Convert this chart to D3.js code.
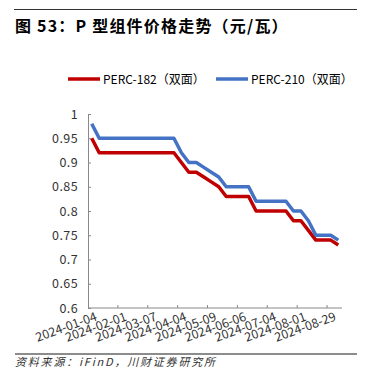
<!DOCTYPE html>
<html><head><meta charset="utf-8">
<script src="https://cdn.jsdelivr.net/npm/d3@7/dist/d3.min.js"></script>
<style>
body{margin:0;background:#fff;}
svg{display:block;font-family:"Noto Sans CJK SC","Noto Sans",sans-serif;}
</style></head>
<body>
<svg id="c" width="375" height="383"></svg>
<script>
const dates = ["2024-01-04","2024-01-11","2024-01-18","2024-01-25","2024-02-01","2024-02-08","2024-02-22","2024-02-29",
"2024-03-07","2024-03-14","2024-03-21","2024-03-28","2024-04-04","2024-04-11","2024-04-18","2024-04-25",
"2024-05-09","2024-05-16","2024-05-23","2024-05-30","2024-06-06","2024-06-13","2024-06-20","2024-06-27",
"2024-07-04","2024-07-11","2024-07-18","2024-07-25","2024-08-01","2024-08-08","2024-08-15","2024-08-22",
"2024-08-29","2024-09-05"];
const perc182 = [0.95,0.92,0.92,0.92,0.92,0.92,0.92,0.92,0.92,0.92,0.92,0.92,0.90,0.88,0.88,0.87,0.86,0.85,
0.83,0.83,0.83,0.83,0.80,0.80,0.80,0.80,0.80,0.78,0.78,0.76,0.74,0.74,0.74,0.73];
const perc210 = [0.98,0.95,0.95,0.95,0.95,0.95,0.95,0.95,0.95,0.95,0.95,0.95,0.92,0.90,0.90,0.89,0.88,0.87,
0.85,0.85,0.85,0.85,0.82,0.82,0.82,0.82,0.82,0.80,0.80,0.78,0.75,0.75,0.75,0.74];
const yTicks = [0.6,0.65,0.7,0.75,0.8,0.85,0.9,0.95,1];
const seriesNames = ["PERC-182（双面）","PERC-210（双面）"];
const colors = ["#C00000","#4472C4"];

const svg = d3.select("#c");
const L = 88, R = 342, T = 114, B = 308;

// rules
svg.append("line").attr("x1",14).attr("x2",357).attr("y1",9.5).attr("y2",9.5).attr("stroke","#333").attr("stroke-width",1);
svg.append("text").attr("x",15).attr("y",32).attr("font-size",16).attr("font-weight","bold").attr("letter-spacing",1.2).attr("fill","#000")
  .text("图 53：P 型组件价格走势（元/瓦）");
svg.append("line").attr("x1",15).attr("x2",357).attr("y1",354).attr("y2",354).attr("stroke","#8c8c8c").attr("stroke-width",2);
svg.append("text").attr("x",15).attr("y",366).attr("font-size",11).attr("font-style","italic").attr("letter-spacing",1.8).attr("fill","#333")
  .text("资料来源：iFinD，川财证券研究所");

const x = d3.scaleBand().domain(d3.range(dates.length)).range([L,R]);
const y = d3.scaleLinear().domain([0.6,1]).range([B,T]);

// y axis
const ya = svg.append("g").attr("transform",`translate(${L},0)`)
  .call(d3.axisLeft(y).tickValues(yTicks).tickSize(-3).tickPadding(10).tickFormat(d=>d3.format("")(+d.toFixed(2))));
ya.select(".domain").attr("stroke","#898989");
ya.selectAll(".tick line").attr("stroke","#898989");
ya.selectAll(".tick text").attr("font-size",12.5).attr("fill","#333").attr("letter-spacing",0.4).attr("font-family","\"Noto Sans CJK SC\",sans-serif");

// x axis
const xa = svg.append("g").attr("transform",`translate(0,${B})`);
xa.append("line").attr("x1",L).attr("x2",R).attr("y1",0).attr("y2",0).attr("stroke","#898989");
const tickIdx = d3.range(0,dates.length,4);
xa.selectAll("line.tk").data(tickIdx.slice(1)).enter().append("line").attr("class","tk")
  .attr("x1",d=>x(d)).attr("x2",d=>x(d)).attr("y1",0).attr("y2",-3).attr("stroke","#898989");
xa.selectAll("text.lb").data(tickIdx).enter().append("text").attr("class","lb")
  .attr("transform",d=>`translate(${x(d)+x.bandwidth()/2+6},${12}) rotate(-20)`)
  .attr("text-anchor","end").attr("font-size",12.5).attr("fill","#333")
  .text(d=>dates[d]);

// lines
const line = d3.line().x((d,i)=>x(i)+x.bandwidth()/2).y(d=>y(d));
[perc182,perc210].forEach((s,k)=>{
  svg.append("path").datum(s).attr("d",line).attr("fill","none").attr("stroke",colors[k])
    .attr("stroke-width",3.5).attr("stroke-linejoin","round");
});

// legend
const lg = [{x:68,tx:103},{x:216,tx:251}];
lg.forEach((p,k)=>{
  svg.append("line").attr("x1",p.x).attr("x2",p.x+32).attr("y1",79).attr("y2",79).attr("stroke",colors[k]).attr("stroke-width",3.5);
  svg.append("text").attr("x",p.tx).attr("y",83.5).attr("font-size",12).attr("fill","#000").text(seriesNames[k]);
});
</script>
</body></html>
